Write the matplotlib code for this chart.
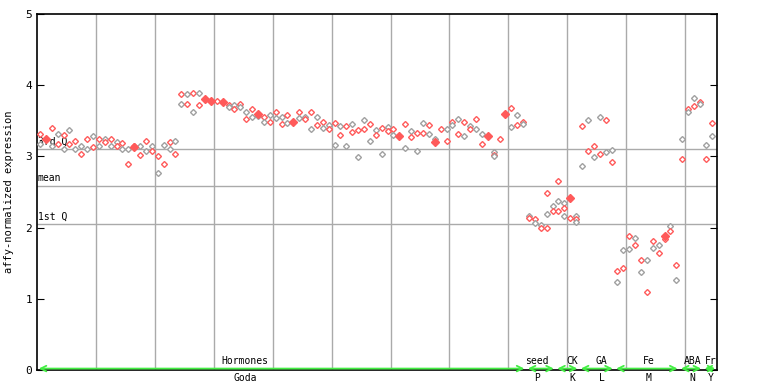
import matplotlib
matplotlib.use("Agg")
import matplotlib.pyplot as plt

# values per sample column (column i sits at x = i + 0.5)
columns = [
    [3.31, 3.18], [], [3.40, 3.14], [3.31, 3.18], [3.30, 3.10],
    [3.37, 3.18], [3.21, 3.10], [3.15, 3.03], [3.25, 3.10], [3.28, 3.13],
    [3.25, 3.14], [3.25, 3.20], [3.24, 3.14], [3.20, 3.14], [3.19, 3.11],
    [3.11, 2.89], [3.15], [3.15, 3.02], [3.22, 3.08], [3.15, 3.08],
    [3.00, 2.76], [3.16, 2.89], [3.20, 3.10], [3.21, 3.03], [3.87, 3.73],
    [3.87, 3.73], [3.89, 3.63], [3.89, 3.72], [], [],
    [3.78], [], [3.72, 3.70], [3.72, 3.67], [3.73, 3.69],
    [3.62, 3.52], [3.66, 3.56], [3.57], [3.56, 3.49], [3.58, 3.49],
    [3.63, 3.54], [3.55, 3.46], [3.58, 3.47], [], [3.63, 3.54],
    [3.56, 3.52], [3.63, 3.38], [3.55, 3.44], [3.49, 3.40], [3.44, 3.38],
    [3.47, 3.16], [3.43, 3.30], [3.43, 3.15], [3.46, 3.34], [3.37, 2.99],
    [3.51, 3.39], [3.46, 3.21], [3.37, 3.30], [3.40, 3.03], [3.41, 3.35],
    [3.38, 3.30], [], [3.46, 3.12], [3.36, 3.27], [3.33, 3.08],
    [3.47, 3.33], [3.44, 3.32], [3.24], [3.38], [3.39, 3.21],
    [3.48, 3.44], [3.52, 3.31], [3.49, 3.29], [3.42, 3.38], [3.52, 3.38],
    [3.31, 3.17], [], [3.06, 3.02, 3.00], [3.25], [],
    [3.68, 3.41], [3.58, 3.44], [3.49, 3.45], [2.16, 2.13], [2.12, 2.06],
    [2.03, 2.00], [2.48, 2.19, 1.99], [2.31, 2.24], [2.65, 2.37, 2.23], [2.34, 2.28, 2.16],
    [2.13], [2.16, 2.12, 2.08], [3.43, 2.87], [3.51, 3.07], [3.15, 2.99],
    [3.55, 3.03], [3.51, 3.06], [3.09, 2.92], [1.39, 1.24], [1.69, 1.43],
    [1.88, 1.70], [1.85, 1.75], [1.55, 1.38], [1.55, 1.09], [1.81, 1.72],
    [1.75, 1.64], [1.84], [2.02, 1.95], [1.47, 1.27], [3.25, 2.97],
    [3.66, 3.62], [3.82, 3.71], [3.77, 3.74], [3.16, 2.97], [3.47, 3.29],
]

# filled markers
filled_idx = [1, 16, 28, 29, 31, 37, 43, 61, 67, 76, 79, 90, 106]
filled_val = [3.25, 3.13, 3.81, 3.78, 3.76, 3.59, 3.48, 3.28, 3.20, 3.28, 3.59, 2.42, 1.88]

# quartile / mean reference lines
ref_names = ["3rd Q", "mean", "1st Q"]
ref_vals = [3.11, 2.59, 2.05]

# groups along the bottom
group_start = [0, 83, 88, 92, 98, 109, 113]
group_end = [83, 88, 92, 98, 109, 113, 115.4]
group_top = ["Hormones", "seed", "CK", "GA", "Fe", "ABA", "Fr"]
group_bottom = ["Goda", "P", "K", "L", "M", "N", "Y"]
label_pos = [35.3, 84.8, 90.9, 95.8, 103.8, 111.2, 114.4]

red = "#ff5a5a"
gray = "#a0a0a0"
green = "#44ee44"
font = "DejaVu Sans Mono"

fig = plt.figure(figsize=(7.68, 3.84), dpi=100)
ax = fig.add_axes([37 / 768, 14 / 384, 680 / 768, 356 / 384])

ax.set_xlim(0, 115.4)
ax.set_ylim(0, 5)

for x in range(10, 116, 10):
    ax.axvline(x, color="#aaaaaa", lw=1, zorder=0)
for name, v in zip(ref_names, ref_vals):
    ax.axhline(v, color="#aaaaaa", lw=1, zorder=0)
    ax.text(0.1, v + 0.03, name, fontsize=7, family=font, va="bottom", ha="left")

# hollow diamonds
for i, vals in enumerate(columns):
    for j, v in enumerate(vals):
        c = red if (i + j) % 2 == 0 else gray
        ax.plot(i + 0.5, v, marker="D", ms=3.0, mfc="white", mec=c, mew=1.0,
                ls="none", zorder=3)

ax.plot([i + 0.5 for i in filled_idx], filled_val, marker="D", ms=4.0,
        color=red, ls="none", zorder=4)

# group arrows and labels
for s, e, top, bot, lp in zip(group_start, group_end, group_top, group_bottom, label_pos):
    ax.annotate("", xy=(s + 0.3, 0.02), xytext=(e - 0.3, 0.02),
                arrowprops=dict(arrowstyle="<->,head_length=0.4,head_width=0.2",
                                color=green, lw=1.3, shrinkA=0, shrinkB=0),
                annotation_clip=False, zorder=5)
    ax.text(lp, 0.06, top, fontsize=7, family=font, ha="center", va="bottom")
    ax.text(lp, -0.04, bot, fontsize=7, family=font, ha="center", va="top")

ax.set_xticks([])
ax.set_yticks(range(6))
ax.tick_params(axis="y", direction="in", length=5, labelsize=8, right=True)
for lab in ax.get_yticklabels():
    lab.set_family(font)
ax.set_ylabel("affy-normalized expression", fontsize=7.5, family=font, labelpad=8)
for sp in ax.spines.values():
    sp.set_color("black")
    sp.set_linewidth(1.2)

fig.savefig("out.png", dpi=100)
